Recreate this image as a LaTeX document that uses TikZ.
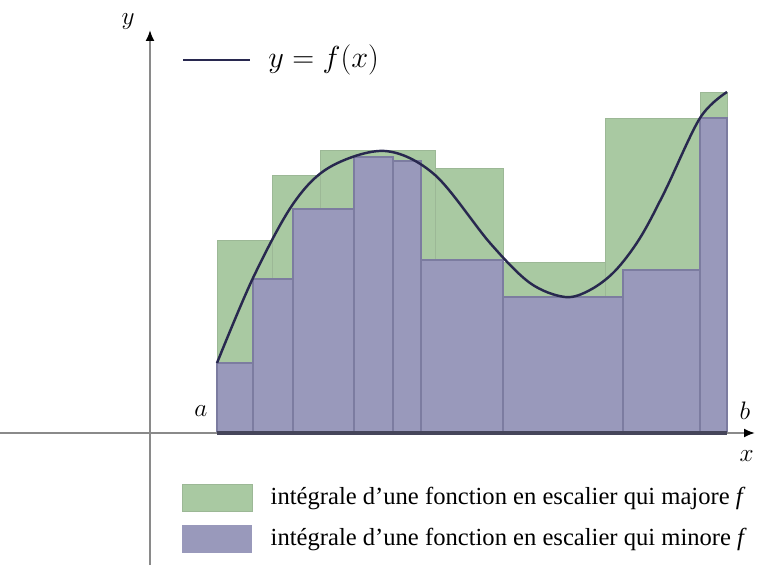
\documentclass[tikz,border=0pt]{standalone}
\usepackage{fontspec}
\setmainfont{Liberation Serif}
\usetikzlibrary{arrows.meta, positioning}
\definecolor{majGreen}{HTML}{A9C9A2}
\definecolor{majEdge}{HTML}{9CB896}
\definecolor{minBlue}{HTML}{9999BB}
\definecolor{minEdge}{HTML}{7C7CA0}
\definecolor{curveNavy}{HTML}{28284F}
\definecolor{axisGrey}{HTML}{8A8A8A}
\definecolor{baseDark}{HTML}{45455A}
\tikzset{
  axisline/.style  = {axisGrey, line width=1.1pt,
                      -{Latex[length=2.2mm, width=1.8mm, color=black]}},
  majbar/.style    = {fill=majGreen, draw=majEdge, line width=0.5pt},
  minbar/.style    = {fill=minBlue, draw=minEdge, line width=0.6pt},
  stepbase/.style  = {baseDark, line width=1.8pt},
  fcurve/.style    = {curveNavy, line width=1.4pt},
  axlbl/.style     = {font=\fontsize{15}{17}\selectfont},
  leglbl/.style    = {font=\fontsize{14}{16}\selectfont, inner sep=0pt},
  legbox/.style    = {minimum width=1.4cm, minimum height=0.55cm, inner sep=0pt},
}

\begin{document}
\begin{tikzpicture}[x=0.02cm, y=0.02cm]
  \useasboundingbox (-150,-132) rectangle (610,433);
  % step function above f
  \foreach \xa/\xb/\h in {67/122/193, 122/170/258, 170/285/283, 285/353/265,
                          353/455/171, 455/550/315, 550/577/341}
    \draw[majbar] (\xa,0) rectangle (\xb,\h);
  % step function below f
  \foreach \xa/\xb/\h in {67/103/70, 103/143/154, 143/204/224, 204/243/276,
                          243/271/272, 271/353/173, 353/473/136, 473/550/163,
                          550/577/315}
    \draw[minbar] (\xa,0) rectangle (\xb,\h);
  % axes
  \draw[axisline] (-150,0) -- (605,0);
  \draw[axisline] (0,-132) -- (0,403);
  \draw[stepbase] (67,0) -- (577,0);
  \node[axlbl] (ylabel) at (-22,411) {$y$};
  \node[axlbl, anchor=east] (xlabel) at (610,-23) {$x$};
  \node[axlbl] (alabel) at (51,22) {$a$};
  \node[axlbl] (blabel) at (595,22) {$b$};
  % the function f
  \draw[fcurve] plot[smooth, tension=0.55] coordinates {
    (67,70) (103,155) (143,229) (180,266) (235,282) (285,258) (340,190)
    (380,150) (415,136) (440,143) (465,162) (490,195) (515,242) (550,315)
    (577,341)};
  % legend
  \coordinate (legstart) at (33,373);
  \coordinate (legend) at (100,373);
  \draw[fcurve] (legstart) -- (legend);
  \node[leglbl, anchor=west, font=\fontsize{18}{21}\selectfont] (legfunc) at (118,373) {$y = f(x)$};
  \node[legbox, fill=majGreen, draw=majEdge] (boxmaj) at (67,-65) {};
  \node[legbox, fill=minBlue] (boxmin) at (67,-106) {};
  \node[leglbl, right=0.36cm of boxmaj] (legmaj) {intégrale d'une fonction en escalier qui majore \textit{f}};
  \node[leglbl, right=0.36cm of boxmin] (legmin) {intégrale d'une fonction en escalier qui minore \textit{f}};
\end{tikzpicture}
\end{document}
